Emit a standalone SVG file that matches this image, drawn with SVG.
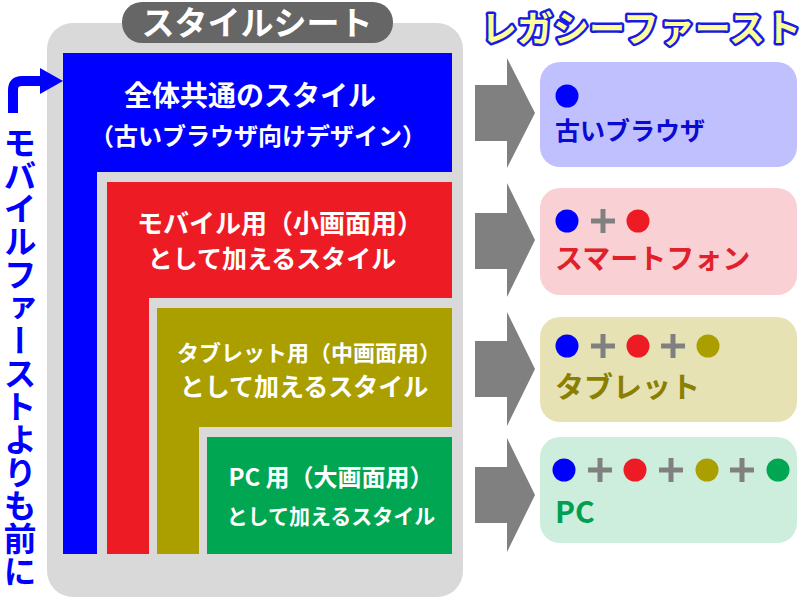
<svg xmlns="http://www.w3.org/2000/svg" width="800" height="599" viewBox="0 0 800 599">
<style>
text{font-family:"Noto Sans CJK JP","Noto Sans",sans-serif;font-weight:bold}
.w{fill:#ffffff}
.arrow{fill:#808080}
.plus{stroke:#808080;stroke-width:5;fill:none}
.gap{fill:#d9d9d9}
</style>
<rect width="800" height="599" fill="#ffffff"/>
<g id="panel">
<rect x="47" y="23" width="416" height="574" rx="26" fill="#d9d9d9"/>
<rect x="122" y="2" width="271" height="41" rx="20" fill="#666666"/>
<text class="w" x="257" y="35" font-size="33" text-anchor="middle">スタイルシート</text>
</g>
<g id="common">
<rect x="63" y="53" width="389" height="501" fill="#0000ff"/>
<text class="w" x="250" y="106" font-size="28" text-anchor="middle">全体共通のスタイル</text>
<text class="w" x="258" y="145" font-size="24" text-anchor="middle">（古いブラウザ向けデザイン）</text>
</g>
<rect class="gap" x="97" y="172" width="355" height="382"/>
<g id="mobile">
<rect x="107" y="182" width="345" height="372" fill="#ed1c24"/>
<text class="w" x="280" y="233" font-size="26" text-anchor="middle">モバイル用（小画面用）</text>
<text class="w" x="272" y="268" font-size="25" text-anchor="middle">として加えるスタイル</text>
</g>
<rect class="gap" x="149" y="298" width="303" height="256"/>
<g id="tablet">
<rect x="157" y="308" width="295" height="246" fill="#ab9f00"/>
<text class="w" x="309" y="361" font-size="22" text-anchor="middle">タブレット用（中画面用）</text>
<text class="w" x="304" y="396" font-size="25" text-anchor="middle">として加えるスタイル</text>
</g>
<rect class="gap" x="199" y="427" width="253" height="127"/>
<g id="pc">
<rect x="207" y="437" width="245" height="117" fill="#00a651"/>
<text class="w" x="331" y="486" font-size="24" text-anchor="middle">PC 用（大画面用）</text>
<text class="w" x="331" y="524" font-size="21" text-anchor="middle">として加えるスタイル</text>
</g>
<g id="side-label">
<path d="M13,113 V90 Q13,81 22,81 H44" fill="none" stroke="#0000ff" stroke-width="10"/>
<polygon points="40,68 63,81 40,94" fill="#0000ff"/>
<text x="20" y="126" font-size="33" fill="#0000ff" style="writing-mode:vertical-rl">モバイルファーストよりも前に</text>
</g>
<g id="legacy-title">
<text x="481" y="42" font-size="36" fill="#ffff99" stroke="#1a1ae6" stroke-width="5" paint-order="stroke" stroke-linejoin="round">レガシーファースト</text>
</g>
<g id="connectors">
<polygon class="arrow" points="475,85 507,85 507,58 535,113 507,168 507,141 475,141"/>
<polygon class="arrow" points="475,213 507,213 507,183 535,240 507,297 507,269 475,269"/>
<polygon class="arrow" points="475,341 507,341 507,312 535,369 507,426 507,397 475,397"/>
<polygon class="arrow" points="475,467 507,467 507,438 535,495 507,552 507,523 475,523"/>
</g>
<g id="old-browser">
<rect x="540" y="62" width="257" height="105" rx="20" fill="#c0c0ff"/>
<circle cx="567" cy="96" r="11.5" fill="#0000ff"/>
<text x="555" y="140" font-size="25" fill="#0a0ad2">古いブラウザ</text>
</g>
<g id="smartphone">
<rect x="540" y="188" width="257" height="107" rx="20" fill="#f9d0d3"/>
<circle cx="567" cy="221" r="11.5" fill="#0000ff"/>
<path class="plus" d="M591,221 H615 M603,209 V233"/>
<circle cx="638" cy="221" r="11.5" fill="#ed1c24"/>
<text x="555" y="269" font-size="28" fill="#e0202a">スマートフォン</text>
</g>
<g id="tablet-device">
<rect x="540" y="317" width="257" height="105" rx="20" fill="#e6e2b4"/>
<circle cx="567" cy="346" r="11.5" fill="#0000ff"/>
<path class="plus" d="M591,346 H615 M603,334 V358"/>
<circle cx="638" cy="346" r="11.5" fill="#ed1c24"/>
<path class="plus" d="M661,346 H685 M673,334 V358"/>
<circle cx="708" cy="346" r="11.5" fill="#ab9f00"/>
<text x="555" y="398" font-size="29" fill="#8a7f00">タブレット</text>
</g>
<g id="pc-device">
<rect x="540" y="437" width="257" height="106" rx="20" fill="#cdeedd"/>
<circle cx="564" cy="470" r="11.5" fill="#0000ff"/>
<path class="plus" d="M588,470 H612 M600,458 V482"/>
<circle cx="635" cy="470" r="11.5" fill="#ed1c24"/>
<path class="plus" d="M659,470 H683 M671,458 V482"/>
<circle cx="707" cy="470" r="11.5" fill="#ab9f00"/>
<path class="plus" d="M730,470 H754 M742,458 V482"/>
<circle cx="778" cy="470" r="11.5" fill="#00a651"/>
<text x="555" y="523" font-size="30" fill="#00a050">PC</text>
</g>
</svg>
